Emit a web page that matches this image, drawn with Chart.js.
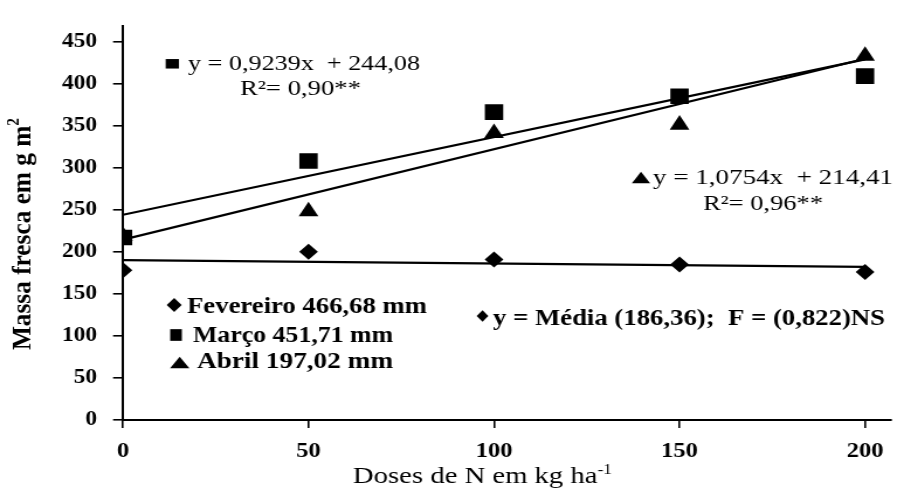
<!DOCTYPE html>
<html>
<head>
<meta charset="utf-8">
<script src="https://cdn.jsdelivr.net/npm/chart.js@4.4.1/dist/chart.umd.min.js"></script>
<style>
  html, body { margin: 0; padding: 0; background: #fff; overflow: hidden; }
  #wrap { width: 773px; height: 494px; transform: scaleX(1.169470); transform-origin: 0 0; }
  canvas { display: block; }
</style>
</head>
<body>
<div id="wrap"><canvas id="c" width="773" height="494"></canvas></div>
<script>
// Doses de N (kg/ha) and fresh mass (g/m2) per harvest month
const doses = [0, 50, 100, 150, 200];
const fevereiro = [178, 200, 191, 185, 176];
const marco = [217, 308, 366, 385, 409];
const abril = [219, 248, 341, 351, 433];

// Fitted lines: Fevereiro (no significant fit), Março and Abril linear models
const fitX = [0, 200];
const fevereiroLine = [190, 182];
const marcoFit = [0.9239, 244.08];   // slope, intercept
const abrilFit = [1.0754, 214.41];   // slope, intercept

const xTicks = [0, 50, 100, 150, 200];
const yTicks = [0, 50, 100, 150, 200, 250, 300, 350, 400, 450];

// The canvas is drawn narrow and widened by the wrapper's scaleX
const SX = 904 / 773;
const SERIF = '"Liberation Serif", "Times New Roman", serif';

function pts(xs, ys) { return xs.map((x, i) => ({ x: x, y: ys[i] })); }
function linePts(fit) { return fitX.map(x => ({ x: x, y: fit[0] * x + fit[1] })); }

// Text run fitted to a given width (in page pixels), left-aligned at baseline y
function textRun(ctx, parts, xPage, y, widthPage) {
  let total = 0;
  parts.forEach(p => { ctx.font = p.font; p.w = ctx.measureText(p.t).width; total += p.w; });
  const k = (widthPage / SX) / total;
  ctx.save();
  ctx.translate(xPage / SX, y);
  ctx.scale(k, 1);
  ctx.textBaseline = 'alphabetic';
  ctx.textAlign = 'left';
  let x = 0;
  parts.forEach(p => { ctx.font = p.font; ctx.fillText(p.t, x, p.dy || 0); x += p.w; });
  ctx.restore();
}

function marker(ctx, type, cxPage, cy, wPage, h) {
  const cx = cxPage / SX, w = wPage / SX;
  ctx.beginPath();
  if (type === 'square') {
    ctx.rect(cx - w / 2, cy - h / 2, w, h);
  } else if (type === 'diamond') {
    ctx.moveTo(cx, cy - h / 2); ctx.lineTo(cx + w / 2, cy);
    ctx.lineTo(cx, cy + h / 2); ctx.lineTo(cx - w / 2, cy);
  } else {
    ctx.moveTo(cx, cy - h / 2); ctx.lineTo(cx + w / 2, cy + h / 2);
    ctx.lineTo(cx - w / 2, cy + h / 2);
  }
  ctx.closePath();
  ctx.fill();
}

const annotations = {
  id: 'annotations',
  beforeDraw(chart) {
    const ctx = chart.ctx;
    ctx.save();
    ctx.fillStyle = '#fff';
    ctx.fillRect(0, 0, chart.width, chart.height);
    ctx.restore();
  },
  afterDraw(chart) {
    const ctx = chart.ctx;
    const reg = '22px ' + SERIF;
    const bold = 'bold 23px ' + SERIF;
    ctx.save();
    ctx.fillStyle = '#000';

    // Março equation
    marker(ctx, 'square', 172.3, 63.8, 13.3, 9.5);
    textRun(ctx, [{ t: 'y = 0,9239x  + 244,08', font: reg }], 188, 70, 232);
    textRun(ctx, [{ t: 'R²= 0,90**', font: reg }], 240, 95, 121);

    // Abril equation
    marker(ctx, 'triangle', 641, 177.5, 18.3, 11.7);
    textRun(ctx, [{ t: 'y = 1,0754x  + 214,41', font: reg }], 653, 184, 240);
    textRun(ctx, [{ t: 'R²= 0,96**', font: reg }], 703, 210, 120);

    // Legend with rainfall per month
    marker(ctx, 'diamond', 174.2, 305, 15, 14);
    textRun(ctx, [{ t: 'Fevereiro 466,68 mm', font: bold }], 187, 313, 240);
    marker(ctx, 'square', 176, 335, 11.7, 11.7);
    textRun(ctx, [{ t: 'Março 451,71 mm', font: bold }], 193, 342, 200);
    marker(ctx, 'triangle', 179.7, 362.5, 19.3, 11.6);
    textRun(ctx, [{ t: 'Abril 197,02 mm', font: bold }], 197, 368, 196);

    // Fevereiro: mean only
    marker(ctx, 'diamond', 482.5, 316, 11.7, 11.7);
    textRun(ctx, [{ t: 'y = Média (186,36);  F = (0,822)NS', font: bold }], 493, 325, 392);

    // X axis title
    textRun(ctx, [
      { t: 'Doses de N em kg ha', font: '23px ' + SERIF },
      { t: '-1', font: '14px ' + SERIF, dy: -9 }
    ], 353, 483, 259);

    // Y axis title (rotated)
    const yParts = [
      { t: 'Massa fresca em g m', font: 'bold 23px ' + SERIF },
      { t: '2', font: 'bold 14px ' + SERIF, dy: -10 }
    ];
    let total = 0;
    yParts.forEach(p => { ctx.font = p.font; p.w = ctx.measureText(p.t).width; total += p.w; });
    const k = 232 / total;
    ctx.translate(30 / SX, 350);
    ctx.rotate(-Math.PI / 2);
    ctx.scale(k, 1);
    ctx.textBaseline = 'alphabetic';
    ctx.textAlign = 'left';
    let x = 0;
    yParts.forEach(p => { ctx.font = p.font; ctx.fillText(p.t, x, p.dy || 0); x += p.w; });
    ctx.restore();
  }
};

new Chart(document.getElementById('c'), {
  type: 'scatter',
  data: {
    datasets: [
      { label: 'Março', data: pts(doses, marco), pointStyle: 'rect', pointRadius: 11.1,
        backgroundColor: '#000', borderColor: '#000', borderWidth: 0, showLine: false, order: 0 },
      { label: 'Fevereiro', data: pts(doses, fevereiro), pointStyle: 'rectRot', pointRadius: 8,
        backgroundColor: '#000', borderColor: '#000', borderWidth: 0, showLine: false, order: 1 },
      { label: 'Abril', data: pts(doses, abril), pointStyle: 'triangle', pointRadius: 9.7,
        backgroundColor: '#000', borderColor: '#000', borderWidth: 0, showLine: false, order: 1 },
      { label: 'Fevereiro ajuste', data: pts(fitX, fevereiroLine), showLine: true, pointRadius: 0,
        borderColor: '#000', borderWidth: 2.2, order: 3 },
      { label: 'Março ajuste', data: linePts(marcoFit), showLine: true, pointRadius: 0,
        borderColor: '#000', borderWidth: 2.2, order: 3 },
      { label: 'Abril ajuste', data: linePts(abrilFit), showLine: true, pointRadius: 0,
        borderColor: '#000', borderWidth: 2.2, order: 3 }
    ]
  },
  options: {
    responsive: false,
    animation: false,
    devicePixelRatio: 1,
    events: [],
    layout: { padding: { top: 20, left: 0, right: 0, bottom: 0 } },
    plugins: { legend: { display: false }, tooltip: { enabled: false } },
    scales: {
      x: {
        type: 'linear', min: 0, max: 207,
        afterFit(scale) { scale.height = 74; },
        afterBuildTicks(scale) { scale.ticks = xTicks.map(v => ({ value: v })); },
        grid: { display: true, drawOnChartArea: false, drawTicks: true, tickLength: 8, color: '#000', lineWidth: 1.6 },
        border: { display: true, color: '#000', width: 2 },
        ticks: { color: '#000', padding: 11, maxRotation: 0,
          font: { family: SERIF, size: 21, weight: 'bold' } }
      },
      y: {
        type: 'linear', min: 0, max: 468.75,
        afterFit(scale) { scale.width = 123 / SX; },
        afterBuildTicks(scale) { scale.ticks = yTicks.map(v => ({ value: v })); },
        grid: { display: true, drawOnChartArea: false, drawTicks: true, tickLength: 8.5, color: '#000', lineWidth: 1.6 },
        border: { display: true, color: '#000', width: 2 },
        ticks: { color: '#000', padding: 13.8,
          font: { family: SERIF, size: 20, weight: 'bold' } }
      }
    }
  },
  plugins: [annotations]
});
</script>
</body>
</html>
